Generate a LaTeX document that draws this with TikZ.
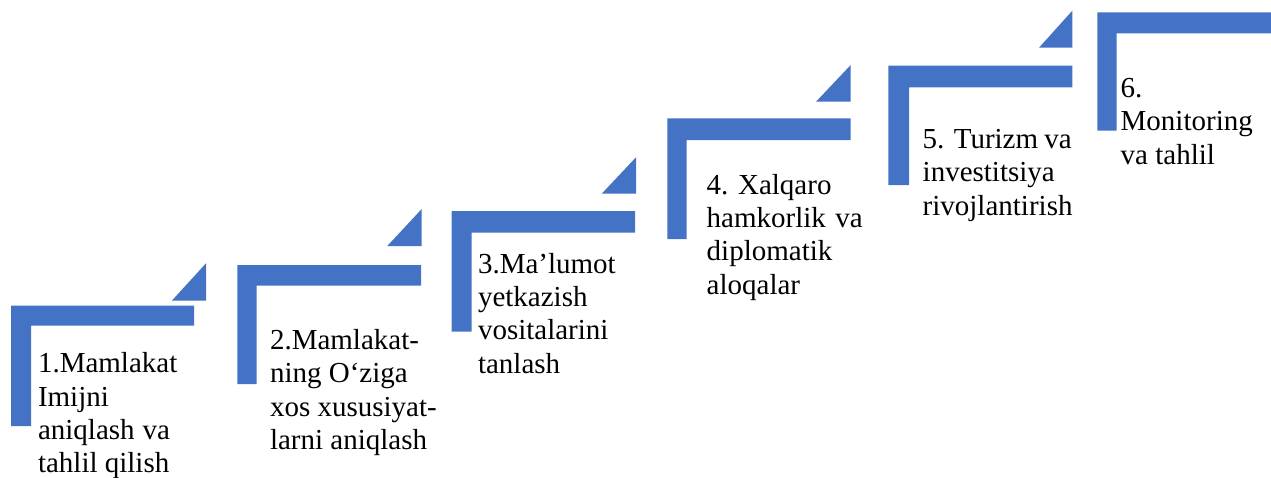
\documentclass[tikz,border=0pt]{standalone}
\usepackage{fontspec}
\setmainfont{Liberation Serif}
\newfontfamily\stepfont{Liberation Serif}
\definecolor{stepblue}{HTML}{4472C4}
\tikzset{
  lshape/.style={fill=stepblue, draw=none},
  tri/.style={fill=stepblue, draw=none},
  steptext/.style={anchor=base west, inner sep=0pt, outer sep=0pt, font=\stepfont}
}
\newcommand{\steplines}[1]{\parbox[t]{220pt}{\stepfont\fontsize{29}{33.4}\selectfont\raggedright #1}}
\begin{document}
\begin{tikzpicture}[x=1pt,y=-1pt]
\useasboundingbox (0,0) rectangle (1271,477);
% step 1
\fill[lshape] (11,305.5) -- (194,305.5) -- (194,325.7) -- (31,325.7) -- (31,426) -- (11,426) -- cycle;
\fill[tri] (206,263.3) -- (206,300.5) -- (172,300.5) -- cycle;
\node[steptext] (t1) at (38,372.7) {\steplines{1.Mamlakat\\Imijni\\\makebox[132pt][s]{aniqlash va}\\tahlil qilish}};
% step 2
\fill[lshape] (237.3,265) -- (421,265) -- (421,285.7) -- (256.7,285.7) -- (256.7,384) -- (237.3,384) -- cycle;
\fill[tri] (421.7,209) -- (421.7,246) -- (387.3,246) -- cycle;
\node[steptext] (t2) at (270,349.3) {\steplines{2.Mamlakat-\\ning O‘ziga\\xos xususiyat-\\larni aniqlash}};
% step 3
\fill[lshape] (451.7,211) -- (635,211) -- (635,232.7) -- (471.7,232.7) -- (471.7,331.7) -- (451.7,331.7) -- cycle;
\fill[tri] (636,157.3) -- (636,193.7) -- (601.7,193.7) -- cycle;
\node[steptext] (t3) at (478,273) {\steplines{3.Ma’lumot\\yetkazish\\vositalarini\\tanlash}};
% step 4
\fill[lshape] (667.3,118.3) -- (850.7,118.3) -- (850.7,140) -- (686.7,140) -- (686.7,239) -- (667.3,239) -- cycle;
\fill[tri] (850.7,65) -- (850.7,101.7) -- (816,101.7) -- cycle;
\node[steptext] (t4) at (706.7,194) {\steplines{4. Xalqaro\\\makebox[156pt][s]{hamkorlik va}\\diplomatik\\aloqalar}};
% step 5
\fill[lshape] (888.3,65.7) -- (1072.3,65.7) -- (1072.3,87.3) -- (909,87.3) -- (909,185) -- (888.3,185) -- cycle;
\fill[tri] (1072.3,10.7) -- (1072.3,47.7) -- (1039,47.7) -- cycle;
\node[steptext] (t5) at (922.7,148.3) {\steplines{\makebox[149pt][s]{5. Turizm va}\\investitsiya\\rivojlantirish}};
% step 6
\fill[lshape] (1097.3,12.3) -- (1271,12.3) -- (1271,33.3) -- (1116.7,33.3) -- (1116.7,130.7) -- (1097.3,130.7) -- cycle;
\node[steptext] (t6) at (1120.7,97.3) {\steplines{6.\\Monitoring\\va tahlil}};
\end{tikzpicture}
\end{document}
